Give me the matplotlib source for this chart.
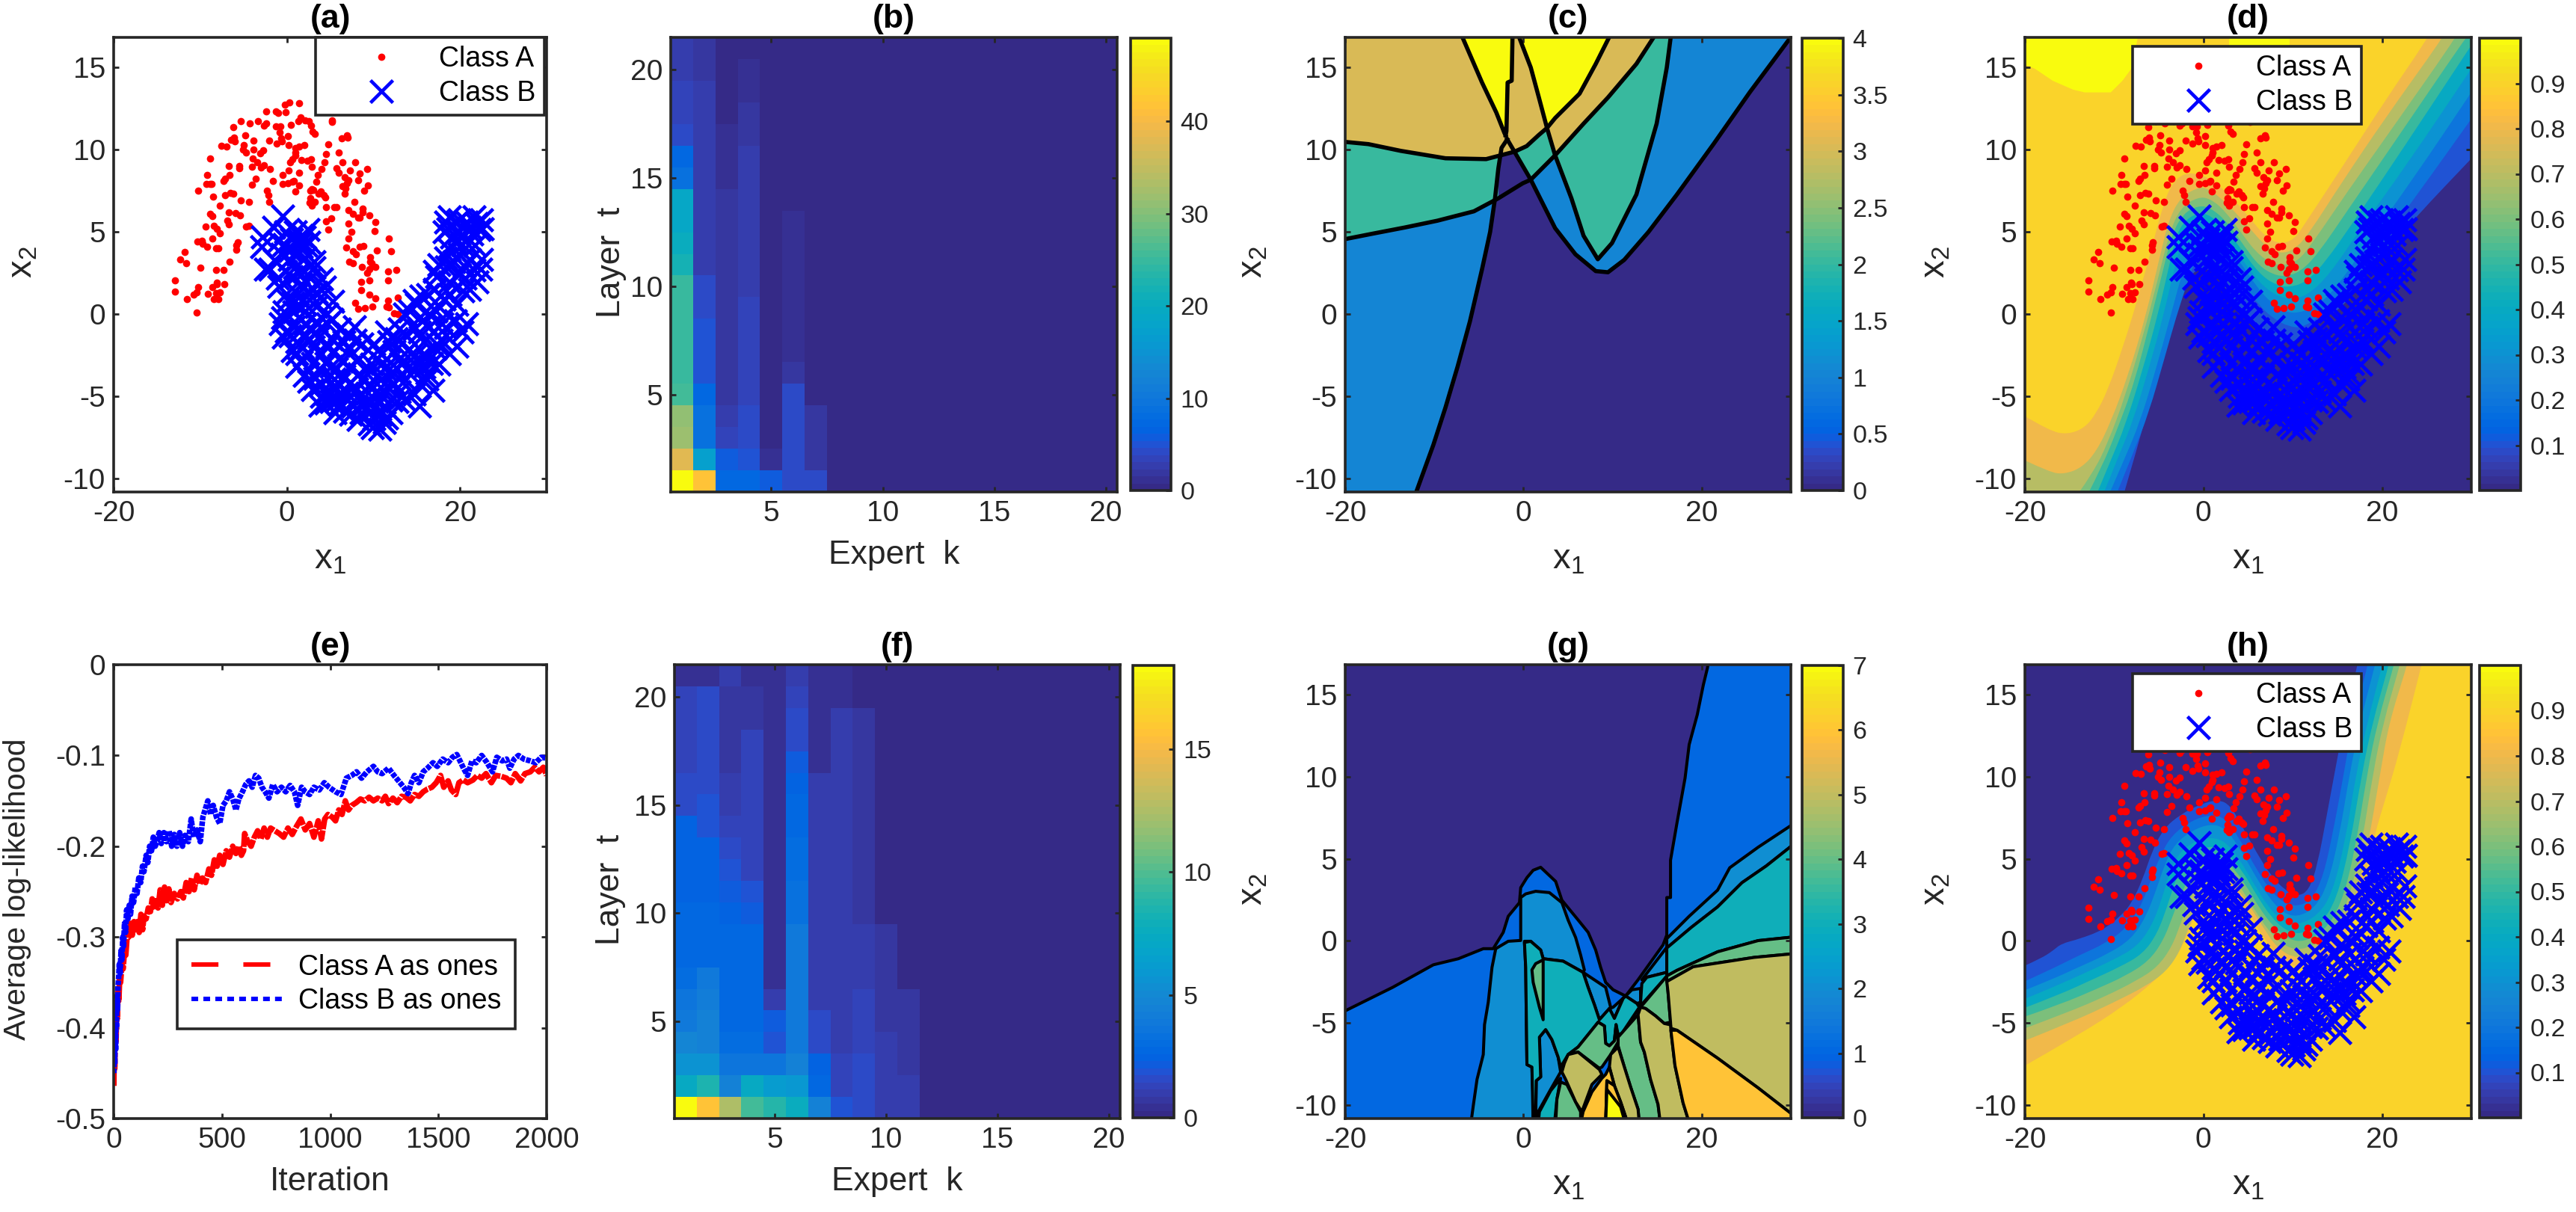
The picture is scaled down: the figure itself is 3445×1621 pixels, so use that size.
import numpy as np
import matplotlib
matplotlib.use("Agg")
from matplotlib import pyplot as plt
from matplotlib.colors import ListedColormap, Normalize
from matplotlib.cm import ScalarMappable
from matplotlib.lines import Line2D
from matplotlib.patches import PathPatch
from matplotlib.path import Path

plt.rcParams['font.family'] = ['Liberation Sans', 'DejaVu Sans']
plt.rcParams['mathtext.fontset'] = 'custom'
plt.rcParams['mathtext.rm'] = 'Liberation Sans'
plt.rcParams['mathtext.it'] = 'Liberation Sans'
plt.rcParams['axes.unicode_minus'] = False
plt.rcParams['lines.scale_dashes'] = False

parula = ListedColormap([
    (.2081,.1663,.5292),(.2116,.1898,.5777),(.2123,.2138,.6270),(.2081,.2386,.6771),
    (.1959,.2645,.7279),(.1707,.2919,.7792),(.1253,.3242,.8303),(.0591,.3598,.8683),
    (.0117,.3875,.8820),(.0060,.4086,.8828),(.0165,.4266,.8786),(.0329,.4430,.8720),
    (.0498,.4586,.8641),(.0629,.4737,.8554),(.0723,.4887,.8467),(.0779,.5040,.8384),
    (.0793,.5200,.8312),(.0749,.5375,.8263),(.0641,.5570,.8240),(.0488,.5772,.8228),
    (.0343,.5966,.8199),(.0265,.6137,.8135),(.0239,.6287,.8038),(.0231,.6418,.7913),
    (.0228,.6535,.7768),(.0267,.6642,.7607),(.0384,.6743,.7436),(.0590,.6838,.7254),
    (.0843,.6928,.7062),(.1133,.7015,.6859),(.1453,.7098,.6646),(.1801,.7177,.6424),
    (.2178,.7250,.6193),(.2586,.7317,.5954),(.3022,.7376,.5712),(.3482,.7424,.5473),
    (.3953,.7459,.5244),(.4420,.7481,.5033),(.4871,.7491,.4840),(.5300,.7491,.4661),
    (.5709,.7485,.4494),(.6099,.7473,.4337),(.6473,.7456,.4188),(.6834,.7435,.4044),
    (.7184,.7411,.3905),(.7525,.7384,.3768),(.7858,.7356,.3633),(.8185,.7327,.3498),
    (.8507,.7299,.3360),(.8824,.7274,.3217),(.9139,.7258,.3063),(.9450,.7261,.2886),
    (.9739,.7314,.2666),(.9938,.7455,.2403),(.9990,.7653,.2164),(.9955,.7861,.1967),
    (.9880,.8066,.1794),(.9789,.8271,.1633),(.9697,.8481,.1475),(.9626,.8705,.1309),
    (.9589,.8949,.1132),(.9598,.9218,.0948),(.9661,.9514,.0755),(.9763,.9831,.0538)])

class_a = [(-12.9,1.36),(-12.9,2.04),(-11.5,.9),(-10.4,.1),(-12.3,3.3),(-11.8,3.76),(-11.6,3.1),(-10,2.8),
    (-10.8,1.2),(-10.2,1.65),(-10.4,1.3),(-9.1,1.25),(-8.6,1.65),(-8.05,1.8),(-8.1,1.9),(-7.2,1.8),(-7.3,2.7),
    (-8.2,2.7),(-8.45,.9),(-7.9,.9),(-8.2,1.27),(-7.7,1.3),(-6.6,3.2),(-5.8,3.9),(-5.7,4.35),(-5.8,4.2),
    (-10.3,4.4),(-9.8,4.45),(-9.7,4.25),(-9.2,4.1),(-8.6,4.6),(-8.2,4),(-7.9,4),(-9.4,5.3),(-8.4,5.35),
    (-8.05,5.2),(-7.7,4.9),(-8.85,6.1),(-8.6,5.95),(-6.7,6.2),(-6.9,5.7),(-6.7,5.45),(-5.9,6.15),(-5.4,6),
    (-4.7,5.3),(-4.4,5.35),(-5.35,6.9),(-4.4,6.8),(-7.7,6.6),(-7.1,7.2),(-6.5,7.35),(-6.15,7.3),(-10.2,7.5),
    (-9.3,7.9),(-8.85,7.9),(-8.7,7.9),(-9.2,8.45),(-8.5,7.15),(-7.3,8.1),(-7.1,8.2),(-6.6,8.45),(-6.7,9),
    (-8.85,9.45),(-7.6,10.2),(-7,10.15),(-6.4,10.6),(-6.1,10.7),(-6,10.5),(-6.2,11.35),(-5.35,11.7),(-4.3,11.6),
    (-3.3,11.7),(-2.65,11.45),(-2.4,11.6),(-2.35,12.3),(-1.25,12.3),(-1,12.2),(-.1,12.25),(-.2,12.7),(.3,12.85),
    (1.4,12.8),(-1.25,11.4),(-.75,11.4),(.45,11.5),(-.85,11.05),(.15,10.8),(-.65,10.65),(-.55,10.5),(-1.2,10.35),
    (-2,10.55),(-3.85,10.55),(-4.8,10.85),(-4.95,10.25),(-5.1,10),(-4.75,9.8),(-3.85,10),(-3.1,9.75),(-2.7,9.95),
    (-3.4,9.2),(-3,8.9),(-2.65,9.05),(-3.95,9.45),(-4.05,8.95),(-5.5,9),(-5.5,8.85),(-1.95,8.8),(-1.6,8.1),
    (-3.6,8.2),(-4.05,7.85),(-2.3,7.5),(-2.15,7.2),(-2,6.8),(-.45,8.45),(.2,8.7),(.15,7.95),(-.5,7.9),(.65,8.05),
    (1.4,7.8),(.8,8.1),(.95,7.45),(1.45,8.6),(.35,9.2),(.6,9.4),(.95,9.65),(1,9.8),(.2,10.25),(1,10.1),(1.45,10.15),
    (2,10.25),(1.3,11.7),(1.6,11.95),(2.1,11.75),(2.55,11.7),(2.8,11.45),(3,11.1),(3.25,10.95),(5.25,11.75),
    (5.2,11.65),(4.8,10.3),(4.55,9.7),(4.35,9.2),(4,8.8),(3.6,8.45),(3.4,8.05),(2.9,7.6),(2.7,7.5),(1.7,9.35),
    (2.35,9.3),(2.8,9.4),(2.9,8.95),(3.05,7.55),(3.95,7.45),(4.25,7.2),(4.45,7.1),(3.7,7.3),(2.7,7.05),(2.65,6.75),
    (2.85,6.6),(3.25,6.8),(4.55,6.5),(5.45,6.5),(5.7,6.5),(4.55,5.65),(5.15,5.8),(4.8,5.15),(6,9.8),(6.4,9.2),
    (5.7,8.85),(6,8.6),(7.3,8.7),(6.7,8.3),(7.1,8.15),(6.4,7.75),(6.95,7.95),(6.8,7.65),(6.65,7.3),(7.9,9.2),
    (8.45,8.55),(9.25,8.8),(8.2,8.15),(9.35,7.8),(8.9,7.5),(7.8,6.8),(7.15,6.3),(7.6,6.1),(8.2,5.85),(8.45,5.85),
    (8.75,6.4),(8.75,6.2),(9.55,6),(10.2,5.6),(7.1,5.5),(7.5,5),(7.1,4.6),(10.1,5.05),(6.85,4.05),(7.65,3.8),
    (7.95,3.65),(8.4,4.1),(8.85,4.15),(10.4,3.85),(11.75,4.6),(12,3.8),(7.2,3.2),(7.65,3.1),(8.65,2.85),(9.65,3.45),
    (9.65,3.2),(9.8,3.1),(10.2,2.85),(9.55,2.75),(9.3,2.5),(8.6,1.95),(8.55,1.45),(9.55,2.05),(9.55,1.2),(10.2,.95),
    (7.9,.7),(8.25,.3),(9,.35),(9.85,.45),(11.7,.8),(11.5,.45),(11.75,.4),(11.7,2.05),(11.7,2.6),(12.6,2.7),
    (12.8,1),(12.4,.05),(12.8,0),(6.35,10.65),(6.9,10.85),(7,10.7)]

class_b = [(-.52,5.97),(-1.53,5.29),(-2.8,4.69),(-2.86,4.08),(1.71,4.76),(.98,4.99),(2.43,5.14),(.55,4.54),(1.71,4.08),
    (2.57,4.38),(-.32,4.23),(-1.91,2.72),(-2.49,2.72),(-1.47,3.25),(-.61,3.63),(.4,3.85),(1.27,3.63),(2.14,3.4),
    (3.15,2.8),(4.02,2.12),(3.15,3.17),(-.17,2.57),(.55,2.27),(1.71,1.81),(-.03,1.21),(1.27,1.21),(2.57,1.21),
    (3.87,.98),(5.32,.76),(4.31,1.66),(-.46,-.23),(-.32,.15),(.84,.15),(1.99,.15),(3.44,.45),(4.6,0),(-.03,-1.06),
    (.84,-.76),(2.14,-.6),(3.44,-.45),(4.74,-.6),(6.04,-.91),(7.77,-.76),(1.13,-1.66),(2.57,-1.51),(3.73,-1.36),
    (5.17,-1.51),(6.62,-1.66),(1.13,-3.17),(1.13,-2.42),(2.43,-2.42),(4.02,-2.42),(5.46,-2.27),(7.2,-2.12),(8.64,-1.81),
    (3.73,-3.33),(5.17,-3.17),(6.33,-2.87),(8.06,-2.87),(2.57,-4.08),(4.02,-4.23),(5.46,-3.93),(6.62,-3.78),(8.35,-3.63),
    (3.87,-5.52),(5.17,-5.29),(6.33,-4.84),(8.06,-4.54),(9.51,-4.38),(4.6,-4.84),(7.63,-5.59),(9.22,-5.29),(10.66,-4.84),
    (12.4,-4.23),(10.09,-6.35),(9.51,-6.65),(11.24,-6.58),(11.24,-5.59),(12.69,-5.29),(15.29,-5.59),(16.88,-4.61),
    (14.71,-4.84),(16.16,-3.93),(14.13,-3.17),(12.69,-3.33),(11.24,-3.33),(9.8,-3.02),(10.95,-2.42),(12.4,-2.27),
    (14.13,-2.12),(15.87,-2.42),(17.6,-3.02),(18.76,-2.42),(19.62,-1.97),(15.87,-1.66),(17.31,-1.81),(18.76,-1.51),
    (20.78,-.6),(17.89,-.6),(16.45,-.76),(14.71,-.91),(12.98,-.91),(11.82,-1.66),(10.09,-1.81),(13.55,0),(15,.6),
    (16.45,0),(18.47,0),(19.62,.6),(21.07,1.51),(21.94,1.97),(22.37,2.72),(18.18,.91),(17.02,1.51),(14.71,.83),
    (17.31,2.27),(18.76,1.97),(19.91,2.42),(21.07,3.33),(22.51,3.33),(17.02,2.57),(18.47,2.87),(19.91,3.63),(18.76,3.93),
    (20.2,4.23),(21.36,4.84),(22.51,5.74),(21.65,5.9),(21.07,5.29),(18.32,5.59),(18.76,5.9),(19.62,5.59),(18.18,4.99),
    (19.91,4.99),(22.23,5.14),(19.91,5.74),(1.4,4.5),(2,4.7),(1.6,4.3),(2.2,4.2),(1.1,4.3),(8.9,-5.5),(9.5,-6),(10.3,-5.6),
    (10.8,-6.1),(9.9,-6.9),(10.7,-7),(8.2,-6.4),(7.4,-6.1),(6.7,-5.9),(6.1,-5.5),(5.6,-6),(11.5,-6.3),(12,-6),(11.8,-4.5),
    (11.3,-4.2),(10.5,-3.7),(12.2,-3.5),(13.2,-3),(13.6,-2.4),(14.6,-3.4),(15.2,-2.9),(16.7,-3),(17.1,-2.1),(16.2,-3.6),
    (-1,4.4),(-.1,5),(.3,3.3),(.9,2.8),(-1.1,2.2),(-.9,1.7),(.1,.8),(.7,.7),(1.3,.6),(2.1,.6),(2.9,1.6),(3.4,1.3),(2.7,2.2),
    (2,2.6),(1.3,2.5),(-.7,-.6),(-.4,-1.4),(.4,-1.3),(1.6,-1),(2.8,-1),(3.9,-.8),(5.2,-.3),(.6,-2.2),(1.8,-2),(3.1,-2),(4.6,-2),
    (6,-1.9),(7,-1.2),(7.9,-1.6),(1.7,-2.9),(3,-3),(4.5,-3),(5.7,-3.3),(7.2,-3.2),(2,-3.7),(3.2,-3.9),(4.7,-3.9),(6,-4.2),
    (7.2,-4.2),(3,-4.6),(4,-5),(5.6,-4.6),(6.9,-4.8),(8.8,-3.9),(4.5,-5.4),(5.8,-5.2),(7,-5.2),(8.2,-5),(8.6,-6),(9.8,-5),
    (10.4,-4.2),(11,-5),(12,-5.2),(13,-4.7),(13.6,-5.2),(13.7,-4),(12.9,-3.9),(15.3,-4.2),(15.8,-3.2),(11,-3),(9.6,-3.4),
    (10.5,-2.2),(11.5,-1.1),(12.6,-1.5),(13.7,-1.2),(15.3,-1.1),(16.9,-1.1),(15.4,-.2),(14.2,.2),(17.2,.2),(18.3,-.8),
    (19.5,-.4),(20.2,-1.1),(17.8,-1.6),(16.3,-2.8),(13,-2.7),(14.8,-2.5),(15.5,1.1),(16.3,1.2),(17.7,1.1),(18.9,1.2),(20.3,1.4),
    (17.6,3),(18.9,2.9),(20.5,2.9),(21.6,2.7),(20.6,2.2),(18.3,3.4),(19.3,3.2),(19.4,4.4),(20.6,4.4),(21.7,4.2),(19,4.7),
    (20.8,5.6),(21.9,5.5),(22.6,5.2),(18.6,5.2)]

# heat maps, one list per expert k, rows go from layer t=1 upwards
b_k1 = [49,38,32,31,26,25,25,24.5,24.5,24.5,22,20,18.5,18.5,8.5,7,4,3.2,3.2,2.4,2.4]
b_k2 = [42,17,9,8.5,7.5,5,5,5,4,4,3,3,3,3,3,3,2.8,2.6,2.6,2,2]
b_k3 = [7.5,5.5,3.6,3,1.6,1.6,1.6,1.6,1.6,1.6,1.6,1.6,1.6,1.6,1.2,1.2,1.2,.6,.6,.6,.6]
b_k4 = [7.5,5,4,4,3.2,3.2,3.2,3.2,3.2,2.5,2.5,2.5,2.5,2.5,2.5,2.5,2,1.8,1.2,1,.3]
b_k5 = [5.5,1.5,.3,.3,.3,.3,.3,.3,.3,.3,.3,.3,.3,.3,.3,.3,.3,.3,.3,.3,.3]
b_k6 = [4,4,4,4,4,2.2,1,1,1,1,1,1,1,.3,.3,.3,.3,.3,.3,.3,.3]
b_k7 = [4,2.2,2.2,1.8,.7,.7,.7,.7,.7,.7,.7,.7,.7,.7,.7,.7,.7,.7,.7,0,0]

f_k1 = [18.4,7.3,5.5,4.6,4,3.5,3,2.8,2.8,2.8,2.5,2.5,2.5,2.5,1.6,1.6,1.3,1.2,1.2,1.2,.4]
f_k2 = [15.8,8.5,5.5,4.5,4.4,4.2,4,2.6,2.6,2.6,2.4,2.4,2.4,2,2,1.7,1.7,1.6,1.6,1.6,.4]
f_k3 = [12.5,4.5,3.5,3,2.8,2.8,2.6,2.6,2.6,2.5,2.2,1.9,1.5,1.4,1,.9,.7,.7,.7,.7,.9]
f_k4 = [9.5,7.3,3.5,3,2.6,2.6,2.6,2.6,2.6,2.2,1.8,1.4,1.4,1.2,1.2,1.2,1.2,1.2,.6,.6,.3]
f_k5 = [8.8,6.2,3.6,2,2.2,1,.5,.5,.5,.5,.5,.5,.5,.5,.5,.5,.5,.5,.5,.5,.3]
f_k6 = [7.6,5.8,4.4,3.9,4,4,4,4,4,3.3,3.2,3,2.9,2.8,2.6,2.4,2.2,1.6,1.5,1.3,1]
f_k7 = [4.4,2.8,2.5,1.7,1.5,1,1,.9,.9,.9,.9,.9,.9,.9,.9,.9,.4,.4,.4,.4,.4]
f_k8 = [2,1.3,1.3,1,1,1,1,1,1,1,1,1,1,.9,.9,.9,.9,.9,.9,.4,.4]
f_k9 = [1.7,1.5,1.6,1.3,1.3,1.3,1,1,1,.6,.8,.8,.8,.8,.7,.7,.7,.7,.7,.1,.1]
f_k10 = [1,.9,.9,.9,.8,.8,.8,.8,.8,.2,.2,.2,.2,.2,.2,.2,.2,.2,.2,.2,.2]
f_k11 = [1,.9,.8,.7,.6,.6,.1,.1,.1,.1,.1,.1,.1,.1,.1,.1,.1,.1,.1,.1,.1]

# log-likelihood curves
ll_a = [(1,-.464),(3,-.405),(5,-.445),(7,-.415),(9,-.39),(11,-.415),(14,-.375),(17,-.39),(20,-.36),(24,-.37),(28,-.345),
    (32,-.35),(38,-.33),(44,-.335),(50,-.315),(56,-.32),(62,-.30),(70,-.30),(78,-.285),(86,-.298),(94,-.283),(102,-.292),
    (110,-.283),(118,-.295),(126,-.275),(134,-.292),(140,-.277),(150,-.28),(160,-.268),(170,-.272),(178,-.258),(186,-.27),
    (194,-.26),(205,-.268),(215,-.248),(225,-.265),(235,-.245),(245,-.26),(255,-.247),(265,-.262),(280,-.252),(295,-.258),
    (310,-.25),(322,-.257),(335,-.24),(348,-.25),(360,-.235),(372,-.248),(385,-.232),(398,-.242),(410,-.235),(425,-.24),
    (440,-.225),(452,-.232),(465,-.215),(478,-.222),(490,-.21),(505,-.22),(520,-.205),(535,-.212),(550,-.2),(565,-.208),
    (580,-.2),(590,-.21),(600,-.205),(605,-.186),(620,-.195),(635,-.2),(650,-.19),(665,-.183),(680,-.192),(695,-.18),
    (710,-.19),(725,-.18),(745,-.183),(765,-.186),(785,-.19),(805,-.18),(825,-.187),(845,-.178),(865,-.17),(885,-.182),
    (905,-.175),(925,-.19),(945,-.172),(960,-.192),(975,-.17),(990,-.165),(1010,-.168),(1025,-.172),(1040,-.16),(1055,-.165),
    (1070,-.15),(1085,-.16),(1100,-.155),(1120,-.152),(1140,-.148),(1160,-.15),(1180,-.146),(1200,-.15),(1220,-.147),
    (1240,-.15),(1255,-.145),(1270,-.153),(1290,-.147),(1310,-.152),(1330,-.145),(1350,-.146),(1370,-.15),(1390,-.143),
    (1410,-.145),(1430,-.14),(1450,-.137),(1470,-.135),(1490,-.13),(1510,-.122),(1525,-.135),(1545,-.128),(1560,-.138),
    (1580,-.143),(1595,-.13),(1615,-.127),(1635,-.13),(1660,-.127),(1680,-.122),(1700,-.125),(1720,-.12),(1745,-.13),
    (1765,-.122),(1790,-.123),(1815,-.125),(1835,-.13),(1855,-.12),(1880,-.128),(1900,-.12),(1925,-.118),(1945,-.113),
    (1965,-.118),(1985,-.113),(2000,-.122)]
ll_b = [(1,-.45),(3,-.42),(5,-.44),(7,-.40),(9,-.425),(11,-.39),(13,-.40),(15,-.365),(18,-.38),(20,-.355),(23,-.345),(26,-.33),
    (30,-.34),(34,-.315),(38,-.325),(42,-.3),(46,-.31),(50,-.285),(55,-.295),(60,-.27),(66,-.28),(72,-.265),(78,-.275),(85,-.255),
    (92,-.262),(100,-.245),(108,-.252),(116,-.235),(125,-.24),(133,-.222),(140,-.228),(150,-.21),(158,-.218),(166,-.2),(175,-.205),
    (183,-.19),(192,-.2),(200,-.195),(210,-.185),(220,-.197),(232,-.185),(244,-.195),(256,-.183),(268,-.2),(280,-.187),(292,-.2),
    (305,-.185),(318,-.2),(330,-.188),(345,-.195),(358,-.17),(370,-.19),(385,-.182),(400,-.195),(412,-.168),(425,-.158),(435,-.15),
    (448,-.165),(460,-.155),(475,-.168),(490,-.175),(505,-.155),(520,-.15),(535,-.14),(550,-.148),(565,-.16),(578,-.148),(595,-.14),
    (610,-.132),(625,-.128),(640,-.135),(655,-.122),(670,-.125),(685,-.135),(700,-.14),(717,-.147),(735,-.132),(755,-.14),(775,-.135),
    (795,-.14),(815,-.133),(835,-.14),(850,-.155),(868,-.135),(885,-.14),(905,-.143),(925,-.135),(950,-.138),(973,-.13),(995,-.135),
    (1025,-.14),(1050,-.143),(1075,-.125),(1100,-.122),(1122,-.118),(1145,-.125),(1170,-.118),(1200,-.112),(1220,-.118),(1240,-.12),
    (1270,-.114),(1295,-.122),(1316,-.128),(1340,-.135),(1360,-.142),(1375,-.13),(1390,-.122),(1410,-.13),(1430,-.118),(1450,-.114),
    (1475,-.108),(1495,-.112),(1520,-.104),(1545,-.108),(1565,-.102),(1585,-.099),(1600,-.106),(1618,-.115),(1635,-.122),(1655,-.106),
    (1675,-.108),(1700,-.1),(1725,-.108),(1750,-.118),(1770,-.102),(1795,-.106),(1815,-.104),(1830,-.114),(1850,-.104),(1870,-.1),
    (1895,-.104),(1925,-.106),(1950,-.108),(1975,-.102),(2000,-.103)]

# panel c: class-count borders
c_a = [(-12.16,-11),(-11.48,-9.98),(-10.11,-7.94),(-8.75,-5.67),(-7.38,-3.17),(-6.01,-.45),(-4.65,2.72),(-3.74,4.99),(-3.19,7.03),
    (-2.82,8.84),(-2.46,10.09),(-1.82,10.61)]
c_b = [(-1.82,10.61),(.82,8.16),(3.55,5.22),(5.83,3.63),(8.11,2.61),(9.48,2.54),(11.3,3.29),(14.03,4.99),(17.22,7.26),(21.32,10.32),
    (25.42,13.49),(30.11,16.9)]
c_c = [(-20.5,4.5),(-16.95,4.88),(-13.3,5.26),(-9.66,5.67),(-5.56,6.24),(-2.82,7.03),(-.09,7.94),(.82,8.16),(3.55,9.64),(6.74,11.56),
    (9.48,13.15),(12.67,15.19),(14.72,16.9)]
c_d = [(-20.5,10.48),(-17.4,10.32),(-13.76,9.91),(-8.75,9.46),(-4.19,9.41),(-1,9.86),(.36,10.2),(1.73,10.88),(2.64,11.3),(3.55,11.9),
    (6.29,13.38),(8.11,15.19),(9.7,16.9)]
c_e = [(-.55,16.9),(.82,14.97),(1.73,13.15),(2.64,11.3),(3.55,9.64),(5.38,7.03),(6.74,4.76),(8.34,3.33),(9.93,4.31),(12.67,7.26),
    (14.94,11.56),(16.08,14.97),(16.54,16.9)]
c_f = [(-6.92,16.9),(-4.65,14.06),(-3.05,12.24),(-2.14,11),(-2,10.85)]
c_g = [(-1.23,16.9),(-1.32,14.17),(-1.78,14.06),(-1.91,11.11),(-2,10.85)]

# panel g: regions as (count, outline)
g_regions = [
    (1, [(-21,-4.6),(-20,-4.25),(-14.67,-2.82),(-10.11,-1.45),(-7.3,-1.08),(-4.5,-.47),(-3.39,-.47),(-2.27,.52),(-1.71,1.5),(-.45,2.33),
         (-.31,3.24),(.39,3.85),(1.09,4.3),(1.93,4.48),(3.61,3.62),(4.31,2.48),(6.14,1.27),(7.26,.52),(8.1,-.55),(8.66,-1.61),(9.22,-2.52),
         (10.06,-2.97),(11.46,-3.35),(12.86,-2.36),(14.26,-1.3),(15.66,-.24),(16.08,.36),(16.08,2.64),(16.5,2.64),(16.5,4.91),(17.22,7.17),
         (18.13,9.9),(18.59,11.94),(19.5,13.76),(20.18,15.57),(20.64,16.6),(20.9,17.5),(31,17.5),(31,-12),(-21,-12)]),
    (2, [(-5.91,-11.15),(-5.63,-10.02),(-5.21,-8.42),(-4.51,-6.91),(-4.37,-5.09),(-3.95,-3.73),(-3.53,-1.61),(-3.11,-.47),(-1.71,-.02),
         (-.31,.03),(-.31,2.64),(.25,2.86),(1.37,3.02),(2.91,2.94),(4.31,2.33),(5.01,1.27),(5.85,.21),(6.41,-.85),(6.83,-1.76),(6.69,-1.91),
         (4.45,-1.23),(2.21,-1.08),(1.93,-.55),(.81,-.02),(.11,-.02),(.25,-1.61),(.39,-7.52),(.95,-7.67),(1.09,-9.64),(1.09,-11.15)]),
    (2, [(6.69,-1.91),(9.22,-2.82),(9.78,-4.03),(8.52,-4.79),(7.96,-3.88),(7.25,-2.82)]),
    (2, [(9.64,-4.11),(10.06,-4.03),(11.46,-3.35),(11.18,-3.5),(10.2,-4.71)]),
    (2, [(11.46,-3.35),(12.16,-2.97),(13.14,-2.89),(13.14,-3.73),(12.72,-3.8)]),
    (2, [(13.28,-2.36),(16.08,-.39),(16.08,-1.91),(13.84,-2.21)]),
    (2, [(16.08,.14),(18.59,1.5),(21.78,3.09),(23.14,4.45),(26.33,5.7),(30.43,7.17),(30.43,5.93),(27.24,4.56),(24.51,3.54),(21.78,2.07),
         (18.82,.82),(16.08,-.43)]),
    (2, [(1.37,-11.15),(1.43,-8.5),(1.93,-8.27),(1.79,-5.85),(2.49,-5.39),(3.19,-6),(3.89,-7.06),(4.17,-7.97),(3.05,-9.03),(1.65,-10.39)]),
    (3, [(.11,-.09),(.81,-.02),(1.93,-.55),(2.21,-1.08),(4.45,-1.23),(6.69,-1.91),(7.25,-2.82),(7.96,-3.88),(8.52,-4.79),(9.64,-4.11),
         (10.2,-4.71),(11.18,-3.5),(11.46,-3.35),(12.72,-3.8),(13,-4.03),(11.04,-5.62),(10.62,-5.7),(10.39,-5.09),(10.2,-6.08),(9.64,-6.38),
         (9.22,-6.23),(9.08,-5.17),(8.38,-4.94),(6.13,-6.45),(5.01,-6.91),(4.17,-7.67),(3.89,-7.06),(3.19,-6),(2.49,-5.39),(1.79,-5.85),
         (1.93,-8.27),(1.43,-8.5),(1.37,-10.55),(1.09,-11.15),(.95,-7.67),(.39,-7.52),(.25,-1.61)]),
    (3, [(13,-4.03),(16.08,-2.14),(16.08,-1.91),(13.84,-2.21),(13.28,-2.59),(13.14,-3.73)]),
    (3, [(16.08,-.43),(18.82,.82),(21.78,2.07),(24.51,3.54),(27.24,4.56),(30.43,5.93),(30.43,.25),(26.33,.02),(21.78,-.66),(17.22,-1.79),
         (16.08,-2.13)]),
    (3, [(1.65,-11.15),(1.79,-10.39),(3.05,-9.11),(4.17,-8.35),(3.75,-9.64),(3.47,-11.15)]),
    (4, [(.95,-1.76),(1.37,-1.38),(2.21,-1.15),(2.21,-4.79),(1.79,-4.03),(1.09,-2.52)]),
    (4, [(13.14,-4.03),(16.08,-2.14),(16.22,-3.12),(16.5,-4.94),(15.8,-5.02),(14.82,-4.56),(13.7,-4.11)]),
    (4, [(16.08,-2.13),(17.22,-1.79),(21.78,-.66),(26.33,.02),(30.43,.25),(30.43,-.77),(25.88,-1),(19.04,-1.57),(16.08,-2.47)]),
    (4, [(8.38,-4.94),(9.08,-5.17),(9.22,-6.23),(9.64,-6.38),(10.2,-6.08),(10.39,-5.09),(10.62,-6.15),(9.78,-6.91),(8.8,-7.67),(8.52,-7.74),
         (6.13,-6.76),(5.01,-6.91),(6.13,-6.45)]),
    (4, [(4.17,-8.58),(4.87,-8.73),(5.85,-9.79),(6.41,-10.39),(6.41,-11.15),(3.61,-11.15),(3.75,-9.64)]),
    (4, [(10.62,-5.85),(12.86,-4.48),(13.14,-6.15),(13.56,-6.76),(14.26,-8.42),(15.1,-9.94),(15.38,-11.15),(13,-11.15),(12.86,-10.24),
         (12.02,-8.88),(11.32,-7.67),(10.62,-6.38)]),
    (5, [(16.08,-2.47),(19.04,-1.57),(25.88,-1),(30.43,-.77),(30.43,-10.65),(30.11,-10.53),(26.33,-8.94),(21.78,-7.13),(17.22,-5.43),
         (16.54,-5.31),(16.5,-4.94),(16.22,-3.12)]),
    (5, [(13.14,-4.03),(13.7,-4.11),(14.82,-4.56),(15.8,-5.02),(16.5,-5.1),(16.54,-5.43),(17,-7.58),(17.91,-9.85),(18.68,-11.2),(15.38,-11.2),
         (15.1,-9.94),(14.26,-8.42),(13.56,-6.76),(13.14,-6.15),(12.86,-4.48)]),
    (5, [(4.59,-7.44),(5.01,-6.91),(6.13,-6.76),(8.52,-7.82),(8.8,-8.12),(7.68,-8.73),(6.55,-10.39),(5.85,-9.79),(4.73,-8.42),(4.31,-7.97)]),
    (5, [(9.78,-6.91),(10.62,-6.45),(11.32,-7.67),(12.02,-8.88),(12.86,-10.24),(13,-11.15),(11.74,-11.15),(10.9,-9.79),(10.2,-8.8),(9.64,-7.67)]),
    (6, [(16.54,-5.43),(17.22,-5.43),(21.78,-7.13),(26.33,-8.94),(30.11,-10.53),(30.43,-11.2),(18.68,-11.2),(17.91,-9.85),(17,-7.58)]),
    (6, [(8.8,-8.35),(9.22,-8.12),(9.64,-7.67),(10.2,-8.8),(9.36,-8.5),(9.22,-11.15),(6.41,-11.15),(6.69,-10.39),(7.68,-9.18)]),
    (6, [(9.36,-8.5),(10.2,-8.8),(10.9,-9.79),(11.74,-11.15),(9.22,-11.15)]),
    (7, [(9.36,-9.03),(10.9,-10.09),(11.46,-11.15),(9.22,-11.15)]),
]

# panel d: iso-probability lines, level: line
d_levels = {
    .1: [(-8.91,-10.9),(-7.44,-8.17),(-5.81,-4.95),(-3.85,-1.38),(-2.38,1.3),(-1.24,2.56),(.07,2.82),(1.37,2.47),(3,1.13),(4.63,-.13),(6.59,-1.2),
         (8.87,-1.82),(10.83,-1.55),(12.79,-.3),(15.4,.23),(18.66,2.73),(23.88,5.95),(30,9.44)],
    .2: [(-9.72,-10.9),(-7.93,-8.52),(-6.13,-6.02),(-4.34,-2.63),(-3.03,-.13),(-2.06,1.48),(-1.08,3.09),(-.1,3.81),(1.04,3.98),(2.35,3.54),(4.31,1.93),
         (6.26,.5),(7.9,-.3),(9.53,-.75),(10.99,-.84),(13.12,-.13),(15.4,1.13),(18.99,3.63),(23.88,7.2),(30,11.85)],
    .3: [(-10.54,-10.9),(-8.91,-8.88),(-7.11,-6.56),(-5.32,-3.34),(-3.69,-.13),(-2.54,2.2),(-1.57,3.81),(-.59,4.7),(.39,4.97),(1.7,4.7),(3.98,3.27),
         (5.94,1.66),(7.57,.68),(9.2,.14),(10.51,.05),(12.46,.41),(14.75,1.48),(18.34,4.34),(23.56,8.27),(30,13.46)],
    .4: [(-11.19,-10.9),(-9.56,-8.7),(-7.93,-6.56),(-6.13,-3.34),(-4.5,-.13),(-3.2,2.91),(-2.38,4.52),(-1.24,5.33),(-.1,5.59),(1.04,5.41),(3.33,4.16),
         (5.29,2.56),(6.92,1.57),(8.55,1.04),(9.85,.91),(11.65,1.13),(14.09,2.38),(17.68,5.24),(22.9,9.17),(30,14.89)],
    .5: [(-11.94,-10.9),(-10.38,-8.88),(-8.74,-6.74),(-6.79,-3.34),(-5.15,-.13),(-3.85,2.91),(-3.03,4.88),(-1.89,5.77),(-.59,6.13),(.72,6.04),(3,4.88),
         (4.96,3.36),(6.59,2.29),(8.22,1.75),(9.53,1.63),(11.32,1.88),(13.44,3),(17.03,5.77),(22.25,9.97),(30,16.32)],
    .6: [(-12.92,-10.9),(-11.35,-9.24),(-9.72,-7.09),(-7.77,-4.24),(-5.81,-.13),(-4.5,2.73),(-3.52,4.88),(-2.22,6.13),(-.59,6.58),(.72,6.49),(2.68,5.59),
         (4.63,4.07),(6.26,2.91),(7.9,2.38),(9.2,2.29),(10.83,2.56),(12.79,3.63),(16.38,6.49),(21.6,10.6),(29.1,16.58),(29.8,17)],
    .7: [(-14.03,-10.9),(-12.33,-9.6),(-10.7,-7.81),(-8.74,-4.95),(-6.79,-1.38),(-5.15,2.02),(-3.85,4.88),(-2.54,6.49),(-.59,7.11),(.72,7.02),(2.35,6.31),
         (4.31,4.88),(5.94,3.72),(7.57,3.09),(8.87,2.95),(10.51,3.18),(12.14,4.25),(16.05,7.38),(20.95,11.13),(28.12,16.67),(28.3,17)],
    .8: [(-20,-8.88),(-17.23,-9.6),(-15.6,-9.72),(-13.64,-9.33),(-12,-8.35),(-10.38,-6.56),(-8.42,-3.7),(-6.46,-.13),(-4.83,3.63),(-3.85,5.77),(-2.54,7.11),
         (-.59,7.7),(.39,7.65),(2.02,7.02),(3.65,6.13),(5.29,5.15),(6.92,4.13),(8.55,3.66),(10.18,3.9),(11.81,4.88),(15.4,7.92),(20.29,11.85),(26.66,16.67),(26.85,17)],
    .9: [(-20,-6.2),(-17.23,-7.09),(-15.27,-7.31),(-13.31,-6.92),(-12,-6.02),(-10.7,-4.59),(-9.07,-2.09),(-7.44,.77),(-5.81,3.98),(-4.5,6.67),(-3.52,7.92),
         (-2.22,8.54),(-.59,8.54),(1.04,8.1),(3,7.2),(5.29,5.77),(6.92,4.7),(8.55,4.25),(10.18,4.52),(11.48,5.59),(15.4,8.81),(20.29,12.92),(25.02,16.67),(25.2,17)],
}
d_top_left = [(-21,15.15),(-20,15.15),(-18.86,14.89),(-16.9,14.17),(-14.62,13.63),(-13.31,13.46),(-10.38,13.46),(-9.07,14.17),(-8.09,14.89),(-7.28,17),(-21,17)]
d_top_mid = [(2.84,15.5),(9.69,15.5),(9.69,17),(2.84,17)]

# panel h: same idea, the level is the colour on the upper left of the line
h_levels = {
    .8: [(-20,-7.58),(-13.96,-5.71),(-9.07,-4.01),(-5.81,-2.58),(-3.52,-1.41),(-2.22,-.16),(-.91,1.63),(.39,3.06),(1.7,3.51),(3.33,3.06),(4.96,1.81),(6.59,.29),
         (8.55,-1.06),(10.83,-1.77),(14.09,-1.06),(16.7,.91),(19.15,6.46),(20.46,8.78),(21.93,11.47),(24.37,16.65),(24.5,17)],
    .7: [(-20,-6.06),(-14.62,-4.9),(-10.05,-3.74),(-6.46,-2.75),(-4.18,-1.86),(-2.71,-.7),(-1.73,.73),(-.59,2.16),(.39,3.24),(1.7,3.86),(3.33,3.51),(4.96,2.34),
         (6.59,.91),(8.22,-.43),(10.51,-1.14),(13.77,-.52),(16.38,1.45),(18.17,5.03),(19.8,10.21),(20.78,13.26),(22.74,16.65),(22.85,17)],
    .6: [(-20,-5.31),(-15.27,-4.36),(-11.03,-3.38),(-7.44,-2.4),(-5.15,-1.59),(-3.52,-.34),(-2.54,1.09),(-1.57,2.52),(-.26,3.77),(1.04,4.31),(2.68,4.13),(3.98,3.42),
         (5.61,1.99),(7.24,.64),(8.87,-.25),(10.83,-.61),(13.77,.11),(15.89,1.81),(17.52,5.21),(18.99,10.21),(20.13,13.26),(21.93,16.65),(22.05,17)],
    .5: [(-20,-4.6),(-15.92,-3.83),(-12,-2.93),(-8.74,-2.13),(-6.13,-1.23),(-4.5,.02),(-3.36,1.63),(-2.38,3.06),(-1.24,4.13),(.07,4.85),(1.7,5.03),(3,4.67),
         (4.63,3.51),(6.26,1.99),(7.9,.82),(9.53,.11),(11.16,-.07),(13.44,.55),(15.4,2.16),(16.93,5.38),(18.34,10.21),(19.48,13.26),(21.27,16.65),(21.4,17)],
    .4: [(-20,-4.06),(-16.25,-3.29),(-12.66,-2.4),(-9.4,-1.59),(-6.79,-.79),(-5.15,.47),(-4.02,2.16),(-3.2,3.6),(-2.22,4.85),(-.59,5.56),(1.04,5.78),(2.51,5.47),
         (4.31,4.31),(5.94,2.79),(7.57,1.45),(9.2,.64),(10.83,.38),(13.12,1),(14.91,2.52),(16.38,5.74),(17.75,10.21),(18.92,13.26),(20.69,16.65),(20.8,17)],
    .3: [(-20,-3.52),(-16.57,-2.75),(-13.31,-1.95),(-10.05,-1.14),(-7.44,-.34),(-5.81,.91),(-4.67,2.52),(-3.85,4.13),(-2.71,5.38),(-.91,6.1),(.72,6.31),(2.35,6.1),
         (3.98,5.03),(5.61,3.51),(7.24,2.08),(8.87,1.18),(10.51,.95),(12.79,1.54),(14.42,2.88),(15.89,6.1),(17.1,10.21),(18.34,13.26),(19.97,16.65),(20.1,17)],
    .2: [(-20,-2.99),(-17.23,-2.4),(-13.96,-1.59),(-10.7,-.79),(-8.09,.11),(-6.46,1.45),(-5.32,3.06),(-4.34,4.67),(-3.2,5.92),(-1.24,6.73),(.72,7.12),(2.35,6.91),
         (3.98,5.74),(5.61,4.13),(7.24,2.7),(8.87,1.72),(10.51,1.45),(12.46,1.99),(13.93,3.42),(15.24,6.46),(16.38,10.21),(17.52,13.26),(19.15,16.65),(19.3,17)],
    .1: [(-20,-2.45),(-17.23,-1.77),(-13.96,-.88),(-11.03,-.16),(-8.74,.73),(-7.11,1.99),(-5.97,3.6),(-4.83,5.21),(-3.52,6.46),(-1.24,7.35),(.72,7.67),(2.35,7.53),
         (3.98,6.28),(5.61,4.67),(7.24,3.24),(8.87,2.34),(10.51,2.08),(12.14,2.52),(13.44,3.95),(14.58,6.82),(15.73,10.21),(16.7,13.26),(18.34,16.65),(18.45,17)],
    0: [(-20,-1.5),(-18.2,-1.06),(-16.9,-.61),(-15.92,-.16),(-13.96,.11),(-11.35,.64),(-9.4,1.45),(-8.09,2.25),(-6.79,3.77),(-5.81,5.38),(-4.5,6.82),(-2.54,7.71),
        (-.26,8.34),(1.7,8.6),(3,8.25),(4.31,6.99),(5.94,5.38),(7.57,3.95),(9.2,3.06),(10.51,2.7),(11.81,3.06),(12.79,4.67),(13.77,7.53),(14.75,10.39),(15.73,13.26),
        (17.19,16.65),(17.3,17)],
}

W, H = 3445, 1621
dark = '#262626'
fig = plt.figure(figsize=(W / 100, H / 100), dpi=100)


def make_axes(left, right, top, bottom):
    ax = fig.add_axes([left / W, 1 - bottom / H, (right - left) / W, (bottom - top) / H])
    for sp in ax.spines.values():
        sp.set_linewidth(2.6)
        sp.set_color(dark)
    ax.tick_params(direction='in', top=True, right=True, length=5, width=2,
                   labelsize=28, colors=dark, pad=8)
    return ax


def add_colorbar(left, right, top, bottom, vmax, ticks, labels):
    cax = fig.add_axes([left / W, 1 - bottom / H, (right - left) / W, (bottom - top) / H])
    cb = fig.colorbar(ScalarMappable(Normalize(0, vmax), parula), cax=cax)
    cb.set_ticks(ticks, labels=labels)
    cb.ax.tick_params(direction='in', length=5, width=2, labelsize=24.5, colors=dark, pad=9)
    cb.outline.set_linewidth(2.6)
    cb.outline.set_edgecolor(dark)


def titles(ax, title, xlabel, ylabel, xcoord, ycoord, xsize=34, ysize=34):
    ax.set_title(title, fontsize=32, fontweight='bold', color='k', pad=9)
    ax.set_xlabel(xlabel, fontsize=xsize, color=dark, va='top')
    ax.xaxis.set_label_coords(0.5, ycoord)
    ax.set_ylabel(ylabel, fontsize=ysize, color=dark, va='center')
    ax.yaxis.set_label_coords(xcoord, 0.505)


def x1x2_axes(ax):
    ax.set_xlim(-20, 30)
    ax.set_ylim(-10.8, 16.8)
    ax.set_xticks([-20, 0, 20], ['-20', '0', '20'])
    ax.set_yticks([-10, -5, 0, 5, 10, 15], ['-10', '-5', '0', '5', '10', '15'])


def scatter_classes(ax, legend_x, legend_y):
    ax.plot(*zip(*class_a), ls='none', marker='o', ms=7, mew=0, color='#ff0000', label='Class A')
    ax.plot(*zip(*class_b), ls='none', marker='x', ms=21, mew=3.3, color='#0000ff', label='Class B')
    leg = ax.legend(loc='upper left', bbox_to_anchor=(legend_x, legend_y), borderaxespad=0, fontsize=27,
                    fancybox=False, framealpha=1, edgecolor=dark, numpoints=1, handlelength=4.1,
                    handletextpad=0, borderpad=0.3, labelspacing=0.25)
    leg.get_frame().set_linewidth(2.6)
    leg.set_zorder(10)


def smooth_region(ax, line, color):
    # curve through the line, then close round the upper left corner of the plot
    verts = [line[0]]
    codes = [Path.MOVETO]
    for i in range(1, len(line) - 1):
        mid = ((line[i][0] + line[i + 1][0]) / 2, (line[i][1] + line[i + 1][1]) / 2)
        verts += [line[i], mid]
        codes += [Path.CURVE3, Path.CURVE3]
    verts.append(line[-1])
    codes.append(Path.LINETO)
    xe, ye = line[-1]
    if xe >= 30:
        tail = [(31, ye), (31, 18), (-21, 18)]
    else:
        tail = [(xe, 18), (-21, 18)]
    x0, y0 = line[0]
    if x0 <= -20:
        tail += [(-21, y0)]
    else:
        tail += [(-21, -12), (x0, -12)]
    verts += tail
    codes += [Path.LINETO] * len(tail)
    verts.append(line[0])
    codes.append(Path.CLOSEPOLY)
    ax.add_patch(PathPatch(Path(verts, codes), facecolor=color, edgecolor='none', zorder=1))


def fill_poly(ax, pts, color, **kw):
    xs, ys = zip(*pts)
    ax.fill(xs, ys, facecolor=color, zorder=1, **kw)


# (a)
ax = make_axes(152, 731, 50, 658)
x1x2_axes(ax)
scatter_classes(ax, 0.4665, 1.0)
titles(ax, '(a)', r'x$_1$', r'x$_2$', -0.21, -0.112)

# (b)
heat_b = np.zeros((21, 20))
for i, col in enumerate([b_k1, b_k2, b_k3, b_k4, b_k5, b_k6, b_k7]):
    heat_b[:, i] = col
ax = make_axes(897, 1494, 50, 658)
ax.pcolormesh(np.arange(0.5, 21), np.arange(0.5, 22), heat_b, cmap=parula, vmin=0, vmax=49)
ax.set_xticks([5, 10, 15, 20], ['5', '10', '15', '20'])
ax.set_yticks([5, 10, 15, 20], ['5', '10', '15', '20'])
titles(ax, '(b)', 'Expert  k', 'Layer  t', -0.134, -0.105, xsize=32, ysize=32)
add_colorbar(1512, 1566, 51, 656, 49, [0, 10, 20, 30, 40], ['0', '10', '20', '30', '40'])

# (c)
norm_c = Normalize(0, 4)
ax = make_axes(1799, 2395, 50, 658)
x1x2_axes(ax)
ax.set_facecolor(parula(norm_c(0)))
fill_poly(ax, c_a + c_b[1:] + [(31, 17.5), (-21, 17.5), (-21, -12), (-12.16, -12)], parula(norm_c(1)))
fill_poly(ax, c_c[:6] + [(-2.82, 8.84), (-2.46, 10.09), (-1.82, 10.61), (-1.82, 17.5), (-21, 17.5), (-21, 4.5)], parula(norm_c(2)))
fill_poly(ax, c_d[5:9] + [c_c[8], c_c[7]], parula(norm_c(2)))
fill_poly(ax, c_c[8:] + [(14.72, 17.5), (16.54, 17.5)] + c_e[:3:-1], parula(norm_c(2)))
fill_poly(ax, c_d[:9] + c_e[3::-1] + [(-.55, 17.5), (-21, 17.5), (-21, 10.48)], parula(norm_c(3)))
fill_poly(ax, c_d[8:] + [(9.7, 17.5), (14.72, 17.5)] + c_c[:7:-1], parula(norm_c(3)))
fill_poly(ax, c_f + c_g[::-1] + [(-1.23, 17.5), (-6.92, 17.5)], parula(norm_c(4)))
fill_poly(ax, c_e[:4] + c_d[9:] + [(9.7, 17.5), (-.55, 17.5)], parula(norm_c(4)))
for line in [c_a, c_b, c_c, c_d, c_e, c_f, c_g]:
    ax.plot(*zip(*line), color='k', lw=4, zorder=2, solid_joinstyle='round')
titles(ax, '(c)', r'x$_1$', r'x$_2$', -0.208, -0.112)
add_colorbar(2410, 2465, 51, 656, 4, [0, .5, 1, 1.5, 2, 2.5, 3, 3.5, 4],
             ['0', '0.5', '1', '1.5', '2', '2.5', '3', '3.5', '4'])

# (d)
ax = make_axes(2708, 3305, 50, 658)
x1x2_axes(ax)
ax.set_facecolor(parula(0.0))
for level in sorted(d_levels):
    smooth_region(ax, d_levels[level], parula(level))
fill_poly(ax, d_top_left, parula(0.999))
fill_poly(ax, d_top_mid, parula(0.999))
scatter_classes(ax, 0.241, 0.98)
titles(ax, '(d)', r'x$_1$', r'x$_2$', -0.2, -0.112)
prob_ticks = [.1, .2, .3, .4, .5, .6, .7, .8, .9]
prob_labels = ['0.1', '0.2', '0.3', '0.4', '0.5', '0.6', '0.7', '0.8', '0.9']
add_colorbar(3316, 3371, 51, 656, 1, prob_ticks, prob_labels)

# (e)
ax = make_axes(152, 731, 889, 1496)
ax.plot(*zip(*ll_a), color='#ff0000', lw=5.4, dashes=(16, 1.2), solid_capstyle='butt')
ax.plot(*zip(*ll_b), color='#0000ff', lw=5.4, dashes=(4.5, 1.1), solid_capstyle='butt')
ax.set_xlim(0, 2000)
ax.set_ylim(-0.5, 0)
ax.set_xticks([0, 500, 1000, 1500, 2000], ['0', '500', '1000', '1500', '2000'])
ax.set_yticks([-.5, -.4, -.3, -.2, -.1, 0], ['-0.5', '-0.4', '-0.3', '-0.2', '-0.1', '0'])
titles(ax, '(e)', 'Iteration', 'Average log-likelihood', -0.223, -0.105, xsize=32, ysize=29.5)
handles = [Line2D([0], [0], color='#ff0000', lw=4.3, dashes=(26, 24)),
           Line2D([0], [0], color='#0000ff', lw=4.3, dashes=(6.5, 5))]
leg = ax.legend(handles, ['Class A as ones', 'Class B as ones'], loc='upper left', bbox_to_anchor=(0.147, 0.394),
                borderaxespad=0, fontsize=27, fancybox=False, framealpha=1, edgecolor=dark, handlelength=3.33,
                handletextpad=0.48, borderpad=0.5, labelspacing=0.25)
leg.get_frame().set_linewidth(2.6)

# (f)
heat_f = np.zeros((21, 20))
for i, col in enumerate([f_k1, f_k2, f_k3, f_k4, f_k5, f_k6, f_k7, f_k8, f_k9, f_k10, f_k11]):
    heat_f[:, i] = col
ax = make_axes(902, 1498, 889, 1496)
ax.pcolormesh(np.arange(0.5, 21), np.arange(0.5, 22), heat_f, cmap=parula, vmin=0, vmax=18.4)
ax.set_xticks([5, 10, 15, 20], ['5', '10', '15', '20'])
ax.set_yticks([5, 10, 15, 20], ['5', '10', '15', '20'])
titles(ax, '(f)', 'Expert  k', 'Layer  t', -0.143, -0.105, xsize=32, ysize=32)
add_colorbar(1515, 1570, 890, 1495, 18.4, [0, 5, 10, 15], ['0', '5', '10', '15'])

# (g)
norm_g = Normalize(0, 7)
ax = make_axes(1799, 2395, 889, 1496)
x1x2_axes(ax)
ax.set_facecolor(parula(norm_g(0)))
for count, outline in g_regions:
    fill_poly(ax, outline, parula(norm_g(count)), edgecolor='k', linewidth=2.9, joinstyle='round')
titles(ax, '(g)', r'x$_1$', r'x$_2$', -0.208, -0.112)
add_colorbar(2410, 2465, 890, 1495, 7, [0, 1, 2, 3, 4, 5, 6, 7], ['0', '1', '2', '3', '4', '5', '6', '7'])

# (h)
ax = make_axes(2708, 3305, 889, 1496)
x1x2_axes(ax)
ax.set_facecolor(parula(0.9))
for level in sorted(h_levels, reverse=True):
    smooth_region(ax, h_levels[level], parula(float(level)))
scatter_classes(ax, 0.241, 0.98)
titles(ax, '(h)', r'x$_1$', r'x$_2$', -0.2, -0.112)
add_colorbar(3316, 3371, 890, 1495, 1, prob_ticks, prob_labels)

fig.savefig('out.png', dpi=100)
